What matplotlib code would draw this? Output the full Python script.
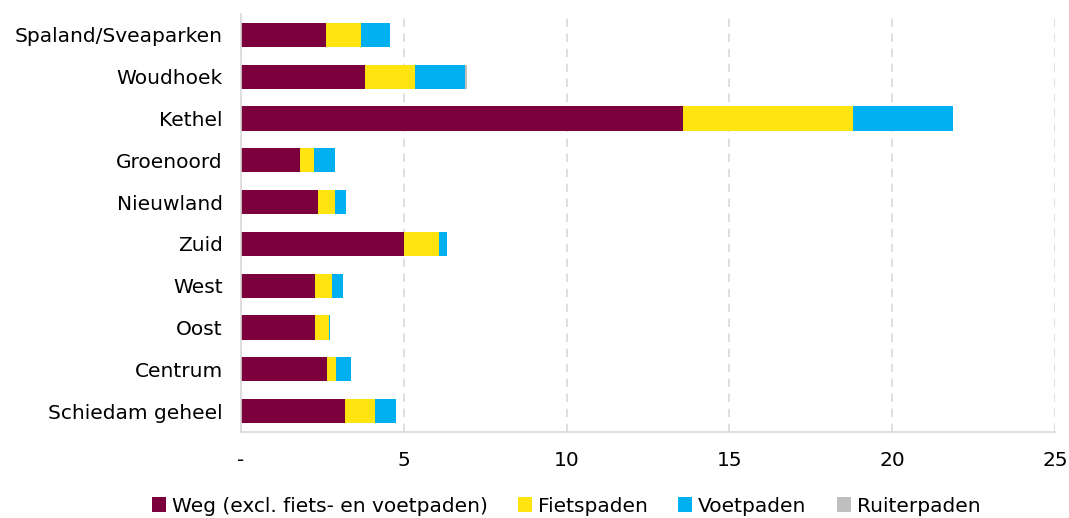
import numpy as np
import matplotlib.pyplot as plt

# Gebieden (van boven naar onder)
wijken = ['Spaland/Sveaparken', 'Woudhoek', 'Kethel', 'Groenoord', 'Nieuwland',
          'Zuid', 'West', 'Oost', 'Centrum', 'Schiedam geheel']

weg = [2.61, 3.82, 13.59, 1.82, 2.37, 5.02, 2.26, 2.26, 2.64, 3.20]
fietspaden = [1.09, 1.53, 5.21, 0.41, 0.51, 1.05, 0.53, 0.43, 0.29, 0.92]
voetpaden = [0.87, 1.53, 3.07, 0.66, 0.34, 0.27, 0.35, 0.04, 0.44, 0.63]
ruiterpaden = [0.0, 0.07, 0.0, 0.0, 0.0, 0.0, 0.0, 0.0, 0.0, 0.0]

series = [
    ('Weg (excl. fiets- en voetpaden)', weg, '#7B003C'),
    ('Fietspaden', fietspaden, '#FFE410'),
    ('Voetpaden', voetpaden, '#00B0F0'),
    ('Ruiterpaden', ruiterpaden, '#BFBFBF'),
]

plt.rcParams['font.family'] = ['DejaVu Sans']
fs = 14.5

fig = plt.figure(figsize=(10.69, 5.18), dpi=100)
ax = fig.add_axes([241 / 1069, 1 - 432 / 518, (1055 - 241) / 1069, (432 - 14) / 518])

y = np.arange(len(wijken))
left = np.zeros(len(wijken))
for naam, waarden, kleur in series:
    ax.barh(y, waarden, left=left, height=0.58, color=kleur, label=naam)
    left += np.array(waarden)

ax.set_ylim(len(wijken) - 0.5, -0.5)
ax.set_xlim(0, 25)
ax.set_yticks(y)
ax.set_yticklabels(wijken, fontsize=fs)
ax.set_xticks([0, 5, 10, 15, 20, 25])
ax.set_xticklabels(['-', '5', '10', '15', '20', '25'], fontsize=fs)
ax.tick_params(axis='y', length=0, pad=13)
ax.tick_params(axis='x', length=0, pad=14)

ax.grid(axis='x', color='#D9D9D9', linestyle=(0, (5, 4)), linewidth=1.2)
ax.set_axisbelow(True)
for s in ['top', 'right']:
    ax.spines[s].set_visible(False)
ax.spines['left'].set_color('#D9D9D9')
ax.spines['bottom'].set_color('#D9D9D9')
ax.spines['left'].set_linewidth(1.2)
ax.spines['bottom'].set_linewidth(1.2)

fig.legend(loc='center', bbox_to_anchor=(566 / 1069, 1 - 506 / 518), ncol=4, frameon=False,
           fontsize=fs, handlelength=0.7, handleheight=0.7, handletextpad=0.3,
           columnspacing=1.5, borderaxespad=0, borderpad=0)

fig.savefig('out.png', dpi=100)
